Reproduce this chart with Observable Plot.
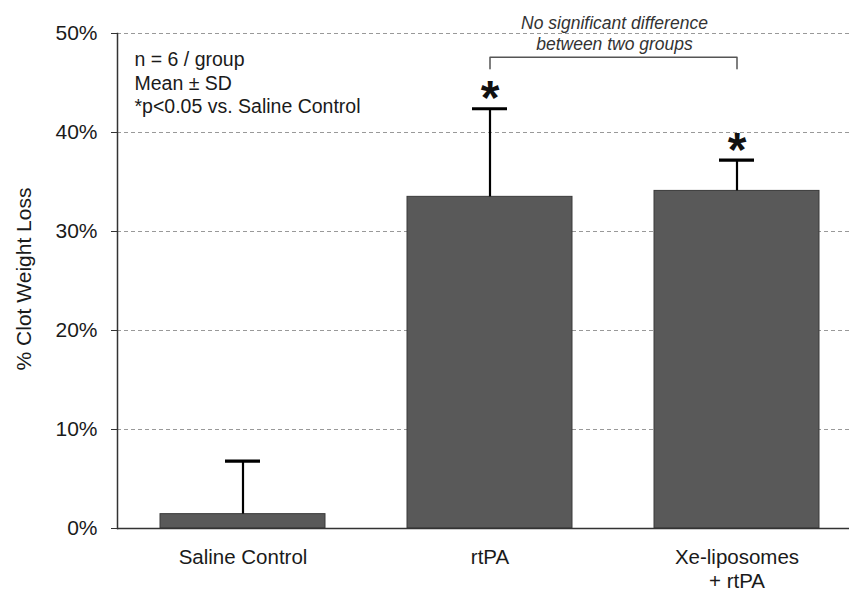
<!DOCTYPE html>
<html><head><meta charset="utf-8">
<script src="https://cdn.jsdelivr.net/npm/d3@7"></script>
<script src="https://cdn.jsdelivr.net/npm/@observablehq/plot@0.6"></script>
<style>body{margin:0;background:#fff}</style>
</head><body><div id="chart"></div>
<script>
const categories = ["Saline Control", "rtPA", "Xe-liposomes\n+ rtPA"];
const means = [1.45, 33.5, 34.1];
const sds = [5.35, 8.9, 3.1];
const significant = [false, true, true];
const yTicks = [0, 10, 20, 30, 40, 50];
const notes = ["n = 6 / group", "Mean ± SD", "*p<0.05 vs. Saline Control"];
const bracketLabel = ["No significant difference", "between two groups"];
const bracketPts = [
  {x: categories[1], y: 46.45}, {x: categories[1], y: 47.6},
  {x: categories[2], y: 47.6}, {x: categories[2], y: 46.45}
];

const data = categories.map((c, i) => ({cat: c, mean: means[i], sd: sds[i], sig: significant[i]}));
const font = "Liberation Sans, Arial, sans-serif";

const chart = Plot.plot({
  width: 849, height: 593,
  marginLeft: 117, marginRight: 0, marginTop: 33, marginBottom: 65,
  style: {fontFamily: font, background: "#fff", color: "#1a1a1a"},
  x: {domain: categories, range: [117, 861], paddingInner: 0.333, paddingOuter: 0.167, label: null},
  y: {domain: [0, 50], label: null},
  marks: [
    Plot.ruleY(yTicks.filter(d => d > 0), {stroke: "#999", strokeDasharray: "4,3", strokeWidth: 1}),
    Plot.barY(data, {x: "cat", y: "mean", fill: "#595959", stroke: "#3a3a3a", strokeWidth: 1}),
    Plot.ruleX(data, {x: "cat", y1: "mean", y2: d => d.mean + d.sd, stroke: "#000", strokeWidth: 2.2}),
    Plot.tickY(data, {x: "cat", y: d => d.mean + d.sd, stroke: "#000", strokeWidth: 3.2, insetLeft: 65, insetRight: 65}),
    Plot.text(data.filter(d => d.sig), {x: "cat", y: d => d.mean + d.sd, text: () => "*", dy: -10, fontSize: 48, fontWeight: "bold", fill: "#111", lineAnchor: "middle"}),
    Plot.ruleY([0], {stroke: "#333", strokeWidth: 1.5}),
    Plot.frame({anchor: "left", stroke: "#333", strokeWidth: 1.5}),
    Plot.axisY({ticks: yTicks, tickFormat: d => d + "%", tickSize: 6, tickPadding: 14, fontSize: 21, stroke: "#333", label: null, fill: "#1a1a1a"}),
    Plot.axisX({tickSize: 0, tickPadding: 18, fontSize: 20.5, lineAnchor: "top", lineHeight: 1.17, label: null, fill: "#1a1a1a"}),
    Plot.text(["% Clot Weight Loss"], {frameAnchor: "left", textAnchor: "middle", dx: -93, dy: -2, rotate: -90, fontSize: 21, fill: "#1a1a1a"}),
    Plot.text([notes.join("\n")], {frameAnchor: "top-left", dx: 17, dy: 15, fontSize: 19.5, lineHeight: 1.23, textAnchor: "start", lineAnchor: "top", fill: "#1a1a1a"}),
    Plot.line(bracketPts, {x: "x", y: "y", stroke: "#555", strokeWidth: 1.5}),
    Plot.text([bracketLabel.join("\n")], {frameAnchor: "top", dx: 131, dy: -20, fontSize: 17.5, lineHeight: 1.22, fontStyle: "italic", fill: "#333", lineAnchor: "top"})
  ]
});
document.getElementById("chart").appendChild(chart);
</script></body></html>
